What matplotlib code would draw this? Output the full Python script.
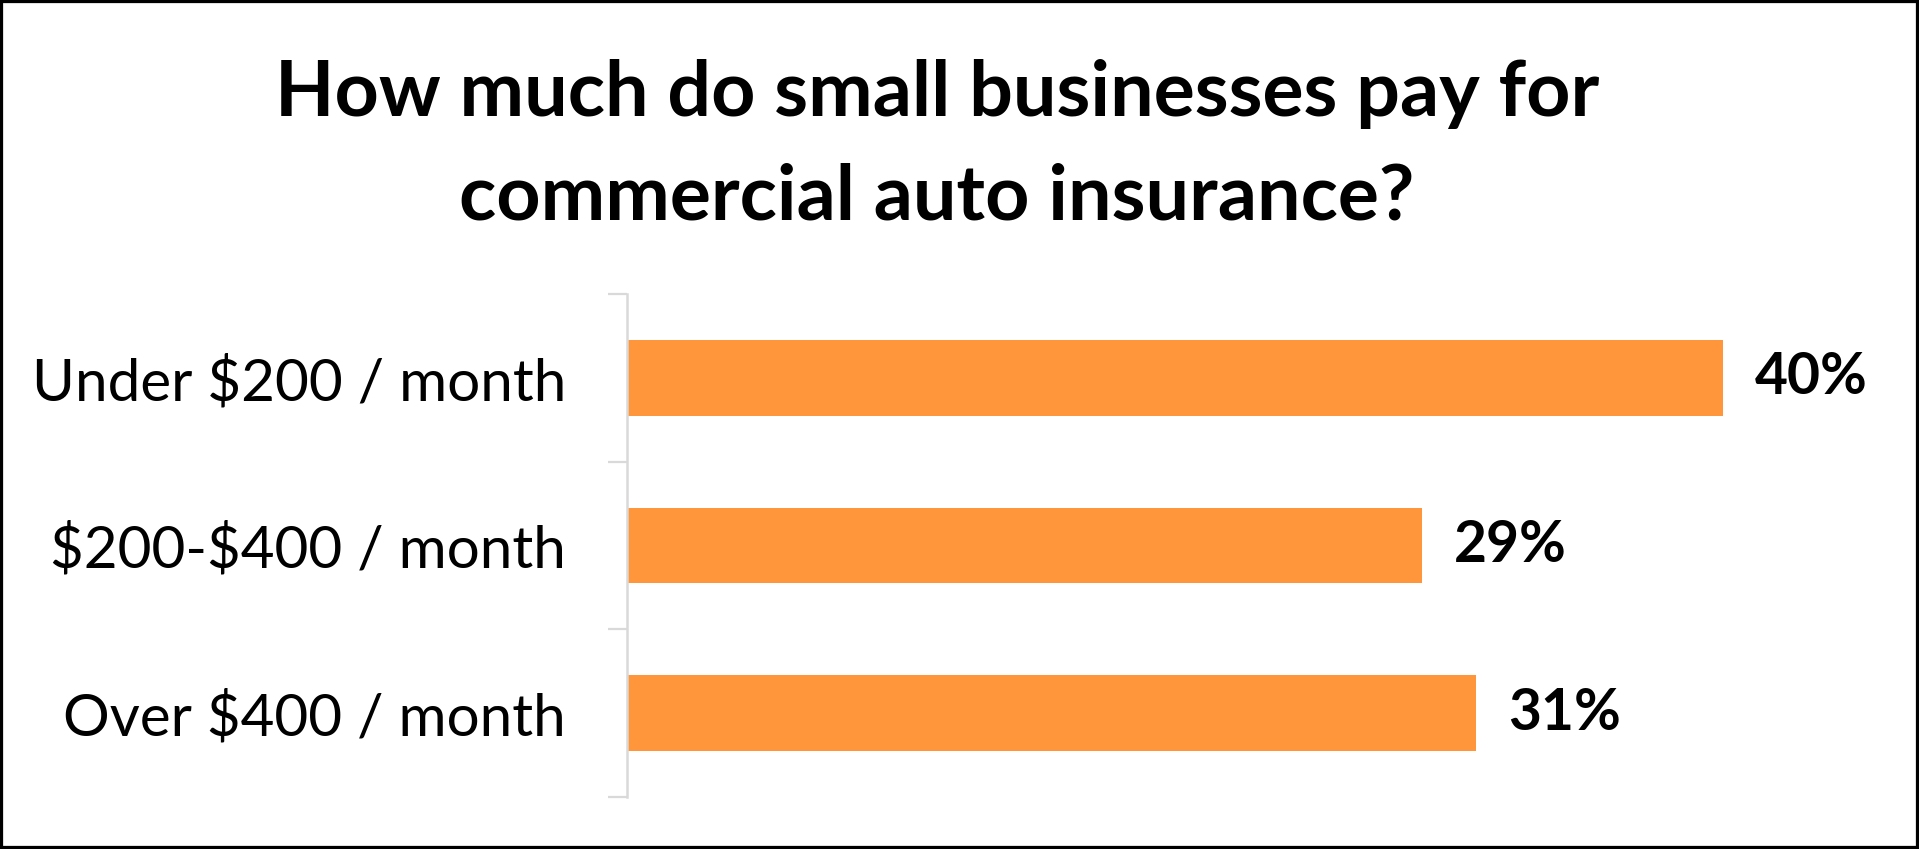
import matplotlib
matplotlib.use("Agg")
import matplotlib.pyplot as plt
from matplotlib.patches import Rectangle

# --------------------------------------------------
# data
# --------------------------------------------------
categories = ["Under $200 / month", "$200-$400 / month", "Over $400 / month"]
shares = [40, 29, 31]
title_lines = ["How much do small businesses pay for",
               "commercial auto insurance?"]

# --------------------------------------------------
# style
# --------------------------------------------------
plt.rcParams["font.family"] = ["Lato", "DejaVu Sans"]
bar_color = "#FF963B"
axis_grey = "#D9D9D9"

W, H = 1919, 849
fig = plt.figure(figsize=(W / 100, H / 100), dpi=100)
fig.patch.set_facecolor("white")

# axes placed in pixel units
ax_left, ax_top, ax_bottom = 627, 294, 797
ax_width = 45 * 27.4
ax = fig.add_axes([ax_left / W, 1 - ax_bottom / H,
                   ax_width / W, (ax_bottom - ax_top) / H])

y = list(range(len(categories)))
ax.barh(y, shares, height=0.453, color=bar_color, edgecolor="none")

ax.set_xlim(0, 45)
ax.set_ylim(len(categories) - 0.5, -0.5)

# value labels
for yi, v in zip(y, shares):
    ax.annotate(f"{v}%", xy=(v, yi), xytext=(23, 0),
                textcoords="offset points", va="center", ha="left",
                fontsize=41, fontweight="bold", color="black")

# category axis ($ escaped so mathtext stays off)
for s in ["top", "right", "bottom"]:
    ax.spines[s].set_visible(False)
ax.spines["left"].set_color(axis_grey)
ax.spines["left"].set_linewidth(1.8)
ax.set_xticks([])
ax.set_yticks(y)
ax.set_yticklabels([c.replace("$", r"\$") for c in categories], fontsize=42)
ax.tick_params(axis="y", which="major", length=0, pad=44)
ax.set_yticks([i - 0.5 for i in range(len(categories) + 1)], minor=True)
ax.tick_params(axis="y", which="minor", length=13.7, width=1.6,
               color=axis_grey, direction="out")

# title, two lines
fig.text(937 / W, 1 - 116 / H, title_lines[0], ha="center", va="baseline",
         fontsize=55.5, fontweight="bold")
fig.text(937 / W, 1 - 219 / H, title_lines[1], ha="center", va="baseline",
         fontsize=55.5, fontweight="bold")

# black border round the picture
fig.patches.append(Rectangle((0, 0), 1, 1, transform=fig.transFigure,
                             fill=False, edgecolor="black", linewidth=4.5))

fig.savefig("out.png", dpi=100)
